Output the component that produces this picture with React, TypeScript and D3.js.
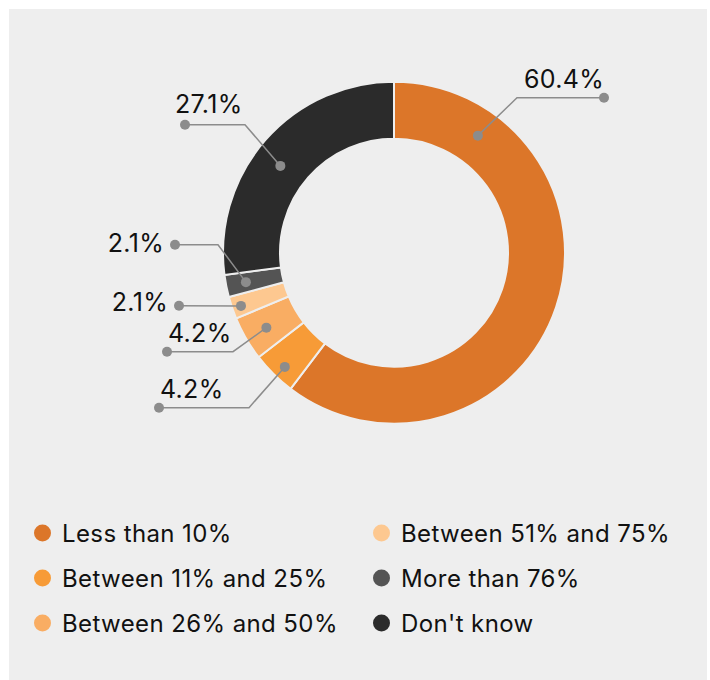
import React, { useEffect, useRef } from 'react';
import * as d3 from 'd3';

const categories = [
  'Less than 10%',
  'Between 11% and 25%',
  'Between 26% and 50%',
  'Between 51% and 75%',
  'More than 76%',
  "Don't know",
];
const values = [60.4, 4.2, 4.2, 2.1, 2.1, 27.1];
const valueLabels = ['60.4%', '4.2%', '4.2%', '2.1%', '2.1%', '27.1%'];
const colors = ['#dc7629', '#f79b37', '#f9ad63', '#fdc890', '#545454', '#2b2b2b'];

// label layout: where the dot sits inside the slice, and where the leader goes (relative to centre)
const labelFrac = [0.164, 0.43, 0.48, 0.45, 0.5, 0.46];
const labelR = [144, 158, 148, 162, 151, 143];
const elbows: ([number, number] | null)[] = [[123, -155], [-145, 155], [-161, 99], null, [-176, -8], [-149, -128]];
const ends: [number, number][] = [[210, -155], [-235, 155], [-227, 99], [-215, 53], [-219, -8], [-209, -128]];
const textPos: [number, number, string][] = [
  [210, -165, 'end'],
  [-234, 145, 'start'],
  [-226, 89, 'start'],
  [-226, 58, 'end'],
  [-230, -1, 'end'],
  [-219, -140, 'start'],
];

const W = 710;
const H = 680;
const cx = 394;
const cy = 252.7;
const outerR = 171;
const innerR = 114;
const FONT = 'Inter, "Noto Sans", sans-serif';

const DonutChart: React.FC = () => {
  const ref = useRef<SVGSVGElement>(null);

  useEffect(() => {
    const svg = d3.select(ref.current);
    svg.selectAll('*').remove();

    svg.append('rect')
      .attr('x', 9).attr('y', 9)
      .attr('width', 698).attr('height', 680)
      .attr('fill', '#eeeeee');

    const pie = d3.pie<number>().sort(null).startAngle(0).endAngle(2 * Math.PI);
    const arcs = pie(values);
    const arc = d3.arc<d3.PieArcDatum<number>>().innerRadius(innerR).outerRadius(outerR);

    const g = svg.append('g').attr('transform', `translate(${cx},${cy})`);

    g.selectAll('path.slice')
      .data(arcs)
      .enter()
      .append('path')
      .attr('class', 'slice')
      .attr('d', arc)
      .attr('fill', (_, i) => colors[i])
      .attr('stroke', '#eeeeee')
      .attr('stroke-width', 2);

    // leader lines + dots
    arcs.forEach((a, i) => {
      const ang = a.startAngle + (a.endAngle - a.startAngle) * labelFrac[i];
      const p: [number, number] = [Math.sin(ang) * labelR[i], -Math.cos(ang) * labelR[i]];
      const pts: [number, number][] = [p];
      if (elbows[i]) pts.push(elbows[i] as [number, number]);
      pts.push(ends[i]);
      g.append('path')
        .attr('d', d3.line()(pts))
        .attr('fill', 'none')
        .attr('stroke', '#8c8c8c')
        .attr('stroke-width', 1.5);
      g.append('circle').attr('cx', p[0]).attr('cy', p[1]).attr('r', 5).attr('fill', '#8c8c8c');
      g.append('circle').attr('cx', ends[i][0]).attr('cy', ends[i][1]).attr('r', 5).attr('fill', '#8c8c8c');
      g.append('text')
        .attr('x', textPos[i][0])
        .attr('y', textPos[i][1])
        .attr('text-anchor', textPos[i][2])
        .attr('font-family', FONT)
        .attr('font-size', 25)
        .attr('letter-spacing', 0.3)
        .attr('fill', '#111111')
        .text(valueLabels[i]);
    });

    // legend
    const colX = [42.5, 381.5];
    const rowY = [533, 578, 623];
    const lg = svg.append('g');
    categories.forEach((name, k) => {
      const col = Math.floor(k / 3);
      const row = k % 3;
      lg.append('circle')
        .attr('cx', colX[col]).attr('cy', rowY[row]).attr('r', 8.5)
        .attr('fill', colors[k]);
      lg.append('text')
        .attr('x', colX[col] + 19.5)
        .attr('y', rowY[row] + 8.5)
        .attr('font-family', FONT)
        .attr('font-size', 24)
        .attr('letter-spacing', 0.4)
        .attr('fill', '#111111')
        .text(name);
    });
  }, []);

  return (
    <svg
      ref={ref}
      width={W}
      height={H}
      style={{ position: 'absolute', left: 0, top: 0, display: 'block' }}
    />
  );
};

export default function App() {
  return <DonutChart />;
}
